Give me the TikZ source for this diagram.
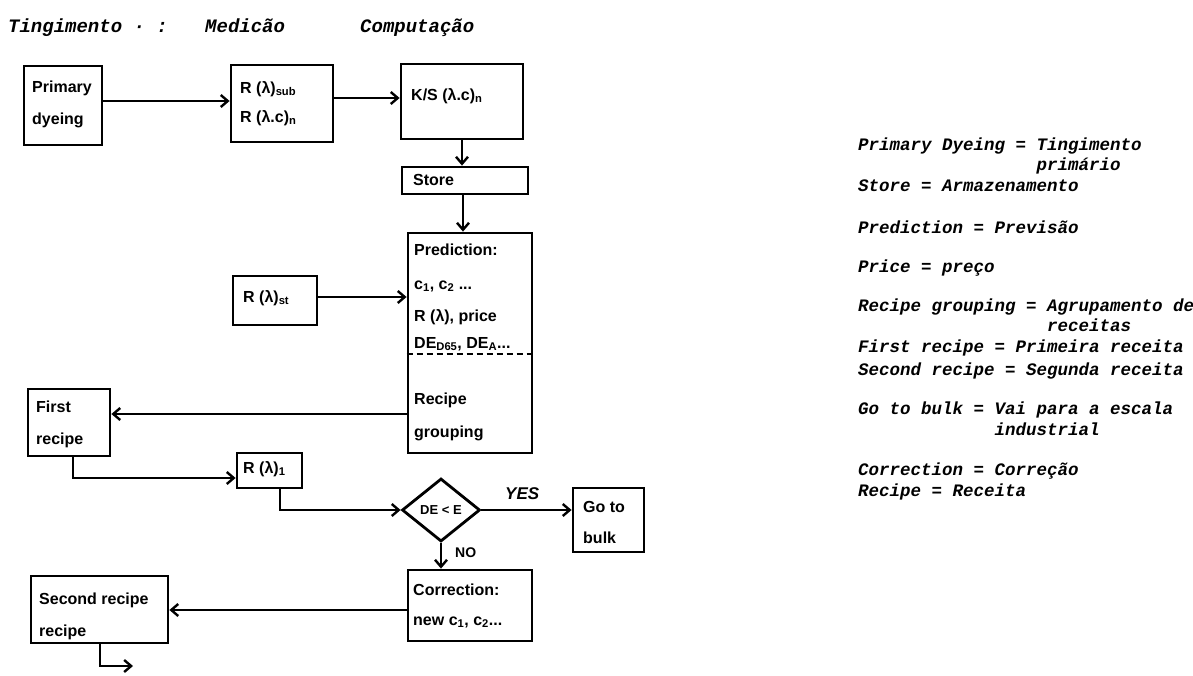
\documentclass[tikz,border=0pt]{standalone}
\usepackage{fontspec}
\setmainfont{Liberation Sans}
\newfontfamily\tw{Liberation Mono}
\usetikzlibrary{arrows.meta,shapes.geometric,calc}
\begin{document}
\begin{tikzpicture}[x=1pt,y=-1pt,
  box/.style={draw,line width=2.8pt,inner sep=0pt},
  lab/.style={anchor=west,inner sep=0pt,font=\fontsize{16}{16}\selectfont\bfseries},
  arr/.style={line width=2.8pt,-{Straight Barb[length=7pt,width=12pt,line width=2.4pt]}},
  leg/.style={anchor=base west,inner sep=0pt,font=\tw\bfseries\itshape\fontsize{17.5}{17.5}\selectfont},
  hdr/.style={anchor=base west,inner sep=0pt,font=\tw\bfseries\itshape\fontsize{19}{19}\selectfont},
]
\useasboundingbox[fill=white] (0,0) rectangle (1193,675);

% header
\node[hdr] (h1) at (8,32) {Tingimento · :};
\node[hdr] (h2) at (205,32) {Medicão};
\node[hdr] (h3) at (360,32) {Computação};

% boxes
\node[box,minimum width=78pt,minimum height=79pt] (prim) at (63,105.5) {};
\node[box,minimum width=102pt,minimum height=77pt] (rsub) at (282,103.5) {};
\node[box,minimum width=122pt,minimum height=75pt] (ks) at (462,101.5) {};
\node[box,minimum width=126pt,minimum height=27pt] (store) at (465,180.5) {};
\node[box,minimum width=124pt,minimum height=220pt] (pred) at (470,343) {};
\node[box,minimum width=84pt,minimum height=49pt] (rst) at (275,300.5) {};
\node[box,minimum width=82pt,minimum height=67pt] (first) at (69,422.5) {};
\node[box,minimum width=65pt,minimum height=35pt] (r1) at (269.5,470.5) {};
\node[draw,line width=2.8pt,diamond,inner sep=0pt,minimum width=78pt,minimum height=63pt] (dia) at (441,510) {};
\node[box,minimum width=71pt,minimum height=64pt] (bulk) at (608.5,520) {};
\node[box,minimum width=124pt,minimum height=71pt] (corr) at (470,605.5) {};
\node[box,minimum width=137pt,minimum height=67pt] (second) at (99.5,609.5) {};

% dashed divider in prediction box
\draw[line width=2.4pt,dash pattern=on 6pt off 4pt] (pred.west |- 0,354) -- (pred.east |- 0,354);

% texts
\node[lab] (t1) at (32,88) {Primary};
\node[lab] (t2) at (32,120) {dyeing};
\node[lab] (t3) at (240,89) {R (λ)\textsubscript{sub}};
\node[lab] (t4) at (240,118) {R (λ.c)\textsubscript{n}};
\node[lab] (t5) at (411,96) {K/S (λ.c)\textsubscript{n}};
\node[lab] (t6) at (413,180) {Store};
\node[lab] (t7) at (414,250) {Prediction:};
\node[lab] (t8) at (414,286) {c\textsubscript{1}, c\textsubscript{2} ...};
\node[lab] (t9) at (414,317) {R (λ), price};
\node[lab] (t10) at (414,344) {DE\textsubscript{D65}, DE\textsubscript{A}...};
\node[lab] (t11) at (414,400) {Recipe};
\node[lab] (t12) at (414,433) {grouping};
\node[lab] (t13) at (243,298) {R (λ)\textsubscript{st}};
\node[lab] (t14) at (36,407) {First};
\node[lab] (t15) at (36,440) {recipe};
\node[lab] (t16) at (243,469) {R (λ)\textsubscript{1}};
\node[lab,anchor=center,font=\fontsize{13}{13}\selectfont\bfseries] (t17) at (441,510) {DE < E};
\node[lab] (t18) at (583,507) {Go to};
\node[lab] (t19) at (583,538) {bulk};
\node[lab] (t20) at (413,590) {Correction:};
\node[lab] (t21) at (413,622) {new c\textsubscript{1}, c\textsubscript{2}...};
\node[lab] (t22) at (39,600) {Second recipe};
\node[lab] (t23) at (39,632) {recipe};
\node[lab,font=\fontsize{17}{17}\selectfont\bfseries\itshape] (yes) at (505,494) {YES};
\node[lab,font=\fontsize{14}{14}\selectfont\bfseries] (no) at (455,553) {NO};

% connectors
\draw[arr] (prim.east |- 0,101) -- (rsub.west |- 0,101);
\draw[arr] (rsub.east |- 0,98) -- (ks.west |- 0,98);
\draw[arr] (ks.south) -- (store.north -| ks.south);
\draw[arr] (store.south -| 463,0) -- (pred.north -| 463,0);
\draw[arr] (rst.east |- 0,297) -- (pred.west |- 0,297);
\draw[arr] (pred.west |- 0,414) -- (first.east |- 0,414);
\draw[arr] (first.south -| 73,0) |- (r1.west |- 0,478);
\draw[arr] (r1.south -| 280,0) |- (dia.west);
\draw[arr] (dia.east) -- (bulk.west |- dia.east);
\draw[arr] (dia.south) -- (corr.north -| dia.south);
\draw[arr] (corr.west |- 0,610) -- (second.east |- 0,610);
\coordinate (out) at (133,666);
\draw[arr] (second.south -| 100,0) |- (out);

% legend
\node[leg] (l1) at (858,150) {Primary Dyeing = Tingimento};
\node[leg] (l2) at (858,170) {\phantom{Primary Dyeing = }primário};
\node[leg] (l3) at (858,191) {Store = Armazenamento};
\node[leg] (l4) at (858,233) {Prediction = Previsão};
\node[leg] (l5) at (858,272) {Price = preço};
\node[leg] (l6) at (858,311) {Recipe grouping = Agrupamento de};
\node[leg] (l7) at (858,331) {\phantom{Recipe grouping = }receitas};
\node[leg] (l8) at (858,352) {First recipe = Primeira receita};
\node[leg] (l9) at (858,375) {Second recipe = Segunda receita};
\node[leg] (l10) at (858,414) {Go to bulk = Vai para a escala};
\node[leg] (l11) at (858,435) {\phantom{Go to bulk = }industrial};
\node[leg] (l12) at (858,475) {Correction = Correção};
\node[leg] (l13) at (858,496) {Recipe = Receita};
\end{tikzpicture}
\end{document}
